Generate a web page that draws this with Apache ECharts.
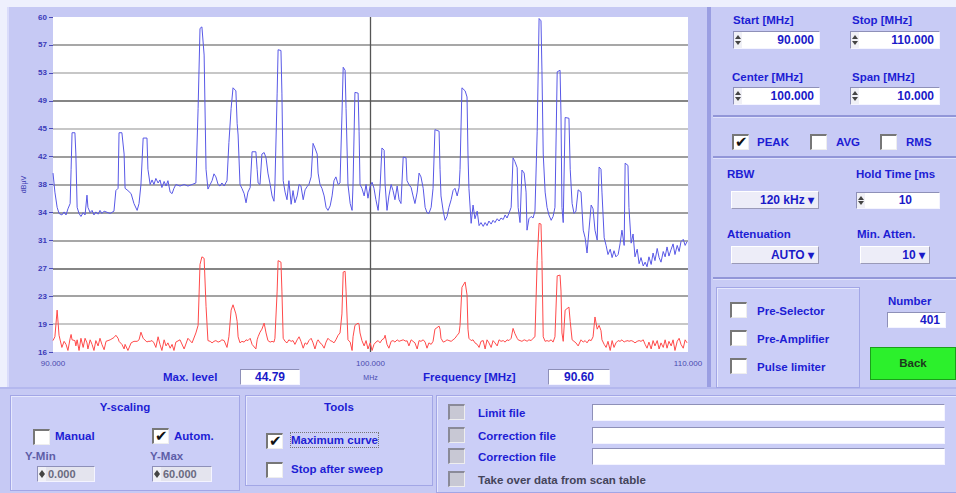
<!DOCTYPE html>
<html>
<head>
<meta charset="utf-8">
<script src="https://cdn.jsdelivr.net/npm/echarts@6/dist/echarts.min.js"></script>
<style>
html,body{margin:0;padding:0;width:956px;height:493px;overflow:hidden;background:#eef0fd;}
#bgMain{position:absolute;left:7px;top:7px;width:700px;height:380px;background:#c6c9f4;border-left:2px solid #dadcfb;box-sizing:border-box;}
#bgRight{position:absolute;left:707px;top:7px;width:249px;height:380px;background:#c8cbf5;border-left:4px solid #9a9ee2;box-sizing:border-box;}
#bgBottom{position:absolute;left:0;top:387px;width:956px;height:106px;background:#c6c9f4;border-top:2px solid #b4b8ee;box-sizing:border-box;}
#chart{position:absolute;left:0;top:0;width:956px;height:493px;}
.ui{position:absolute;font-family:'Liberation Sans',Arial,sans-serif;font-weight:bold;white-space:nowrap;}
.lbl{font-size:11.5px;color:#1d1dd4;line-height:14px;}
.box{background:#fff;border-top:1px solid #8e90b8;border-left:1px solid #8e90b8;border-bottom:1px solid #f4f4ff;border-right:1px solid #f4f4ff;box-sizing:border-box;font-size:12px;color:#1a1ac8;text-align:right;padding-right:5px;}
.spin{position:absolute;left:0;top:0;width:8px;height:100%;background:#f0f0f6;}
.spin:before{content:'';position:absolute;left:1px;top:3px;border-left:3px solid transparent;border-right:3px solid transparent;border-bottom:4px solid #444;}
.spin:after{content:'';position:absolute;left:1px;bottom:3px;border-left:3px solid transparent;border-right:3px solid transparent;border-top:4px solid #444;}
.chk{width:17px;height:16px;background:#fff;border-top:2px solid #777;border-left:2px solid #777;border-bottom:1px solid #eee;border-right:1px solid #eee;box-sizing:border-box;}
.chk.on:after{content:'\2714';position:absolute;left:1px;top:-3px;font-size:15px;color:#111;font-weight:normal;font-family:'DejaVu Sans',sans-serif;}
.chk.grey{background:#c8c8d4;border-top:2px solid #8a8a98;border-left:2px solid #8a8a98;}
.dd{background:#ededf8;border-top:1px solid #fff;border-left:1px solid #fff;border-bottom:1px solid #9a9ab8;border-right:1px solid #9a9ab8;box-sizing:border-box;font-size:12px;color:#1a1ac8;text-align:right;padding-right:4px;}
.sep{position:absolute;height:2px;background:#9296d8;border-bottom:1px solid #e0e2fc;}
.grp{position:absolute;background:#cbcef7;border:1px solid #a2a6e6;box-shadow:inset 1px 1px 0 #e6e8fd;box-sizing:border-box;}
.grey{color:#5a5aa0;}
</style>
</head>
<body>
<div id="bgMain"></div>
<div id="bgRight"></div>
<div id="bgBottom"></div>
<div id="chart"></div>
<div id="ui"></div>
<script>
// ---------------- data ----------------
const freqMHz = [
 90.00,90.06,90.13,90.19,90.28,90.35,90.41,90.47,90.54,90.57,
 90.60,90.69,90.72,90.76,90.82,90.88,90.95,91.01,91.07,91.10,
 91.17,91.23,91.29,91.35,91.42,91.48,91.54,91.61,91.67,91.80,
 91.92,91.98,92.05,92.08,92.17,92.24,92.27,92.36,92.46,92.55,
 92.65,92.71,92.77,92.84,92.96,92.99,93.06,93.12,93.18,93.24,
 93.31,93.37,93.43,93.50,93.56,93.62,93.69,93.75,93.81,93.87,
 94.00,94.13,94.25,94.38,94.50,94.57,94.63,94.69,94.76,94.82,
 94.88,94.95,95.01,95.07,95.13,95.20,95.26,95.32,95.39,95.48,
 95.54,95.61,95.67,95.76,95.80,95.83,95.89,95.95,96.02,96.08,
 96.14,96.21,96.27,96.39,96.43,96.46,96.52,96.58,96.65,96.71,
 96.77,96.84,96.90,96.96,96.99,97.06,97.09,97.18,97.21,97.25,
 97.31,97.37,97.43,97.50,97.56,97.62,97.69,97.75,97.81,97.88,
 97.94,98.00,98.06,98.13,98.19,98.25,98.32,98.35,98.41,98.47,
 98.54,98.60,98.66,98.73,98.79,98.85,98.91,98.98,99.04,99.10,
 99.14,99.20,99.23,99.29,99.36,99.42,99.45,99.51,99.61,99.64,
 99.67,99.73,99.80,99.86,99.92,99.99,100.05,100.11,100.17,100.24,
 100.30,100.36,100.43,100.46,100.52,100.58,100.65,100.71,100.77,100.84,
 100.90,100.96,101.03,101.12,101.15,101.21,101.28,101.34,101.40,101.47,
 101.53,101.59,101.66,101.72,101.78,101.84,101.91,101.97,102.03,102.16,
 102.19,102.22,102.29,102.35,102.41,102.47,102.54,102.60,102.66,102.73,
 102.79,102.82,102.88,102.98,103.04,103.07,103.10,103.17,103.23,103.29,
 103.36,103.42,103.48,103.55,103.61,103.67,103.73,103.80,103.86,103.92,
 103.99,104.05,104.11,104.18,104.24,104.30,104.36,104.43,104.49,104.55,
 104.62,104.65,104.71,104.77,104.84,104.90,104.93,104.99,105.06,105.12,
 105.18,105.25,105.31,105.37,105.40,105.44,105.50,105.56,105.62,105.69,
 105.75,105.81,105.88,105.97,106.00,106.03,106.07,106.13,106.25,106.29,
 106.35,106.41,106.47,106.54,106.63,106.70,106.76,106.82,106.88,106.95,
 107.01,107.07,107.14,107.20,107.26,107.29,107.36,107.42,107.48,107.55,
 107.61,107.67,107.73,107.80,107.86,107.92,107.99,108.02,108.11,108.14,
 108.21,108.27,108.33,108.40,108.46,108.52,108.59,108.65,108.71,108.77,
 108.84,108.90,108.96,109.03,109.09,109.15,109.22,109.28,109.34,109.40,
 109.47,109.53,109.59,109.66,109.72,109.78,109.85,109.91,109.97
];
// maximum curve (blue), dBµV
const maxCurve = [
 39.5,37.0,35.0,34.2,34.0,34.4,34.0,34.8,35.5,40,
 44.8,44.8,42,35,34.2,33.8,34.3,34.0,36.6,35.0,
 34.3,34.6,34.0,34.4,34.1,34.6,34.2,34.5,34.4,34.2,
 34.5,37.2,37.5,44.8,44.8,42,37.5,37.2,36.8,35.5,
 34.6,35.5,38.0,44.1,44.1,40,38.0,38.6,38.0,38.8,
 38.2,38.6,37.6,38.4,37.8,38.5,37.0,36.8,37.5,38.0,
 37.8,38.0,37.8,38.0,38.2,48,58.5,58.7,55,40,
 37.4,38.0,38.5,39.4,39.0,38.0,37.8,38.2,37.8,38.5,
 43.5,48,50.7,50.3,46,44.5,38,37.5,36.8,35.6,
 37.0,37.6,42.3,42.3,40,38.2,38.0,42,42.2,41.5,
 39.5,38.0,36.5,35.8,38,50,55.7,55.6,50,38.5,
 37.0,36.0,38.5,35.4,37.2,35.6,36.5,38.0,37.8,36.0,
 37.3,37.7,38.0,39,43.4,42.8,42.0,39.5,38.0,37.5,
 36.5,35.0,34.6,35.2,36.5,38.5,39.0,38.0,38.2,47,
 53.4,53.0,48,38,35.5,34.6,38,50.1,50.0,45,
 38,37.5,36.5,38.0,36.2,37.8,38.3,37.5,36.0,34.6,
 37.5,42.8,42.5,38,34.6,36.5,38.0,37.2,36.0,37.8,
 36.0,35.5,41.6,41.5,38.5,38.0,37.6,36.5,35.5,37.0,
 39.5,39.0,37.5,35.0,34.3,34.2,35.0,37.5,45.2,45.0,
 40,36.5,34.5,33.3,33.8,35.0,36.0,37.2,37.5,36.5,
 37.6,40,50.7,50.3,49.5,42,37.5,32.9,35.3,33.5,
 34.5,32.6,33.0,32.5,33.0,32.6,33.2,32.8,33.3,33.0,
 33.5,33.2,33.6,33.4,34.0,33.6,34.2,35,41.5,41.0,
 40.2,35,33.0,39.9,39.5,37,32.0,33.5,33.8,33.6,
 34.5,45,59.8,59.5,53,42,37.0,35.0,34.0,33.3,
 33.8,35.0,52.8,53.0,47,35,33.0,46.8,46.7,40,
 35.5,34.2,34.5,37.3,37.0,32.0,31.0,29.0,32.0,35.3,
 34.8,32.0,30.7,40.3,40.0,37,31.0,30.0,28.8,29.5,
 28.4,29.3,28.5,28.8,30.2,32.0,30,40.8,40.5,35,
 30.3,31.5,28.5,29.5,27.6,28.4,27.3,27.8,27.2,28.5,
 27.5,29.0,28.0,29.6,28.4,27.8,29.2,28.5,29.8,28.6,
 29.5,30.2,28.8,30.0,29.2,30.5,30.8,30.0,30.5
];
// current sweep (red), dBµV
const currentCurve = [
 17.5,18.0,21.5,18.2,16.6,17.4,17.0,16.2,17.8,18.3,
 17.6,17.5,16.8,17.6,16.2,17.8,16.6,17.8,17.2,16.4,
 17.6,17.0,16.2,17.5,16.8,17.8,17.0,16.3,17.4,17.6,
 17.9,18.2,17.8,17.4,17.0,16.4,17.0,16.2,17.2,17.4,
 17.4,17.6,18.6,17.8,17.3,17.4,17.4,17.5,17.2,16.6,
 18.0,17.0,16.2,17.6,16.8,17.2,16.5,17.0,16.2,17.3,
 17.6,16.4,17.8,17.2,18.5,19.5,27.5,28.5,28.3,22,
 17.5,17.4,17.2,17.4,17.5,17.3,17.4,17.6,17.5,16.6,
 18.0,21.5,22.2,21.0,20.0,18.0,17.2,17.4,17.3,17.6,
 17.5,17.8,17.0,16.4,17.6,18.0,18.6,19.0,19.8,18.5,
 17.5,17.3,17.4,17.3,17.8,24,28.0,27.8,24,17.8,
 17.4,17.2,17.6,17.4,17.5,17.0,17.6,18.0,17.4,16.5,
 17.2,17.0,17.5,17.8,17.2,16.4,17.4,17.6,17.2,17.0,
 16.5,17.3,17.8,17.5,17.4,17.2,17.6,18.2,18.5,21,
 26.5,26.6,24,17.6,17.3,16.2,18.0,19.5,19.8,19.6,
 18.5,17.5,16.8,17.5,16.4,17.2,16.2,17.0,17.3,17.5,
 17.2,17.6,17.8,18.2,17.0,16.5,17.4,17.5,17.3,17.6,
 17.4,17.5,17.6,17.4,17.5,16.8,17.6,17.4,17.2,16.4,
 17.5,17.4,17.6,17.3,16.5,17.2,17.0,17.4,19.0,19.4,
 19.0,17.8,17.3,17.4,17.6,17.5,17.4,17.6,17.8,18.2,
 18.5,19.5,24.5,25.2,23.5,19,17.8,17.5,17.6,17.2,
 17.0,16.6,17.4,17.5,16.4,17.6,17.2,16.6,17.5,17.2,
 16.8,17.6,17.4,17.5,17.3,17.6,17.5,17.8,19.1,18.4,
 17.8,17.6,17.5,17.4,17.6,17.5,17.4,17.6,17.5,17.8,
 18.0,28,32.9,32.8,28,18.0,17.4,17.5,17.4,17.6,
 17.3,18.0,26.0,26.1,24,18.5,17.4,21.5,21.9,20.0,
 17.6,17.4,17.2,16.8,17.6,17.3,17.5,17.2,17.6,17.5,
 18.0,20.6,19.0,19.5,18.8,17.6,17.0,16.6,17.4,16.2,
 17.5,16.6,17.2,17.5,17.4,17.6,17.3,17.4,17.5,17.4,
 17.5,17.4,17.2,17.4,17.5,17.4,17.6,17.0,16.5,17.3,
 16.4,17.5,16.8,17.5,16.4,17.2,16.6,17.6,16.5,17.4,
 16.8,17.6,16.2,17.4,17.8,17.0,16.5,17.6,17.2
];
const yTickLabels = ['16','19','23','27','31','34','38','42','45','49','53','57','60'];
const xTickLabels = ['90.000','100.000','110.000'];
const Y_MIN = 16, Y_MAX = 60, X_MIN = 90, X_MAX = 110;

// ---------------- chart ----------------
const Y_STEP = (Y_MAX - Y_MIN) / (yTickLabels.length - 1);
const X_STEP = (X_MAX - X_MIN) / (xTickLabels.length - 1);
const chart = echarts.init(document.getElementById('chart'), null, {renderer: 'svg'});
chart.setOption({
  animation: false,
  backgroundColor: 'transparent',
  grid: {left: 53, right: 268, top: 17, bottom: 141, show: true, backgroundColor: '#ffffff', borderWidth: 0},
  xAxis: {
    type: 'value', min: X_MIN, max: X_MAX, interval: X_STEP,
    name: 'MHz', nameLocation: 'middle', nameGap: 22,
    nameTextStyle: {fontSize: 7, color: '#4a4ab0', fontFamily: 'Liberation Sans'},
    axisLine: {show: false}, axisTick: {show: false},
    axisLabel: {fontSize: 8, color: '#4a4ab0', margin: 7, fontFamily: 'Liberation Sans',
      formatter: v => xTickLabels[Math.round((v - X_MIN) / X_STEP)]},
    splitLine: {show: true, lineStyle: {color: ['transparent', '#555555', 'transparent'], width: 1.3}}
  },
  yAxis: {
    type: 'value', min: Y_MIN, max: Y_MAX, interval: Y_STEP,
    name: 'dBµV', nameLocation: 'middle', nameRotate: 90, nameGap: 25,
    nameTextStyle: {fontSize: 7, color: '#3a3ab0', fontFamily: 'Liberation Sans'},
    axisLine: {show: false},
    axisTick: {show: true, length: 4, lineStyle: {color: '#4a4ab8'}},
    axisLabel: {fontSize: 8, color: '#3a3ab8', fontWeight: 'bold', margin: 6, fontFamily: 'Liberation Sans',
      formatter: v => yTickLabels[Math.round((v - Y_MIN) / Y_STEP)]},
    splitLine: {show: true, lineStyle: {width: 1.6, color: [
      'transparent','#b4b4b4','#858585','#5c5c5c','#8a8a8a','#7c7c7c','#8a8a8a',
      '#7c7c7c','#b4b4b4','#5c5c5c','#b4b4b4','#8a8a8a','transparent']}}
  },
  series: [
    {name: 'Maximum curve', type: 'line', symbol: 'none', z: 3,
     lineStyle: {color: '#5858e6', width: 1},
     data: freqMHz.map((f, i) => [f, maxCurve[i]])},
    {name: 'Current sweep', type: 'line', symbol: 'none', z: 4,
     lineStyle: {color: '#ff4a4a', width: 1},
     data: freqMHz.map((f, i) => [f, currentCurve[i]])}
  ]
});

// ---------------- UI widgets (HTML text) ----------------
const ui = document.getElementById('ui');
function add(cls, x, y, w, h, text, extra) {
  const d = document.createElement('div');
  d.className = 'ui ' + cls;
  d.style.left = x + 'px'; d.style.top = y + 'px';
  if (w) d.style.width = w + 'px';
  if (h) { d.style.height = h + 'px'; d.style.lineHeight = (h - 2) + 'px'; }
  if (text !== undefined && text !== null) d.textContent = text;
  if (extra) Object.assign(d.style, extra);
  ui.appendChild(d);
  return d;
}
function lbl(x, cy, t, extra) { return add('lbl', x, cy - 7, null, null, t, extra); }
function spinBox(x, y, w, h, t) { const b = add('box', x, y, w, h, t); const s = document.createElement('div'); s.className = 'spin'; b.appendChild(s); return b; }
function chk(x, y, on, grey) { return add('chk' + (on ? ' on' : '') + (grey ? ' grey' : ''), x, y); }
function dd(x, y, w, h, t) { return add('dd', x, y, w, h, t + ' \u25BE'); }

// under the plot
lbl(163, 377, 'Max. level');
add('box', 240, 369, 60, 16, '44.79', {textAlign: 'center', paddingRight: '0'});
lbl(423, 377, 'Frequency [MHz]');
add('box', 548, 369, 62, 16, '90.60', {textAlign: 'center', paddingRight: '0'});

// right panel
lbl(733, 20, 'Start [MHz]'); lbl(852, 20, 'Stop [MHz]');
spinBox(733, 31, 87, 18, '90.000'); spinBox(850, 31, 90, 18, '110.000');
lbl(732, 77, 'Center [MHz]'); lbl(852, 77, 'Span [MHz]');
spinBox(733, 87, 87, 18, '100.000'); spinBox(850, 87, 90, 18, '10.000');
add('sep', 713, 115, 243, 0);
chk(732, 134, true); lbl(757, 142, 'PEAK');
chk(810, 134, false); lbl(836, 142, 'AVG');
chk(880, 134, false); lbl(906, 142, 'RMS');
add('sep', 713, 156, 243, 0);
lbl(727, 174, 'RBW'); lbl(856, 174, 'Hold Time [ms');
dd(731, 191, 88, 18, '120 kHz');
spinBox(856, 192, 84, 17, '10').style.paddingRight = '27px';
lbl(727, 234, 'Attenuation'); lbl(857, 234, 'Min. Atten.');
dd(731, 246, 88, 18, 'AUTO');
dd(860, 246, 70, 18, '10');
add('sep', 713, 277, 243, 0);
add('grp', 716, 287, 144, 101);
chk(730, 302); lbl(757, 311, 'Pre-Selector');
chk(730, 330); lbl(757, 339, 'Pre-Amplifier');
chk(730, 358); lbl(757, 367, 'Pulse limiter');
lbl(888, 301, 'Number');
add('box', 887, 312, 59, 16, '401');
add('lbl', 870, 347, 86, 33, 'Back', {background: '#2cf02c', border: '1px solid #1aa01a', boxSizing: 'border-box', textAlign: 'center', lineHeight: '31px', color: '#1c3a1c', fontSize: '11.5px'});

// bottom groups
add('grp', 10, 395, 230, 96);
add('lbl', 10, 401, 230, 14, 'Y-scaling', {textAlign: 'center'});
chk(33, 429); lbl(55, 436, 'Manual');
chk(152, 428, true); lbl(174, 436, 'Autom.');
lbl(25, 456, 'Y-Min', {color: '#5e5ea8'}); lbl(150, 456, 'Y-Max', {color: '#5e5ea8'});
spinBox(37, 466, 58, 16, '0.000').style.cssText += 'text-align:left;padding-left:10px;background:#e4e4ee;color:#6a6a80;font-size:11px;';
spinBox(152, 466, 60, 16, '60.000').style.cssText += 'text-align:left;padding-left:10px;background:#e4e4ee;color:#6a6a80;font-size:11px;';
add('grp', 245, 395, 188, 91);
add('lbl', 245, 401, 188, 14, 'Tools', {textAlign: 'center'});
chk(266, 433, true); lbl(291, 440, 'Maximum curve', {outline: '1px dotted #777'});
chk(266, 462); lbl(291, 469, 'Stop after sweep');
add('grp', 436, 395, 524, 98);
chk(448, 404, false, true); lbl(478, 413, 'Limit file');
chk(448, 427, false, true); lbl(478, 436, 'Correction file');
chk(448, 448, false, true); lbl(478, 457, 'Correction file');
chk(448, 471, false, true); lbl(478, 480, 'Take over data from scan table', {color: '#44445a'});
add('box', 592, 404, 353, 17, '');
add('box', 592, 427, 353, 17, '');
add('box', 592, 448, 353, 17, '');
</script>
</body>
</html>
